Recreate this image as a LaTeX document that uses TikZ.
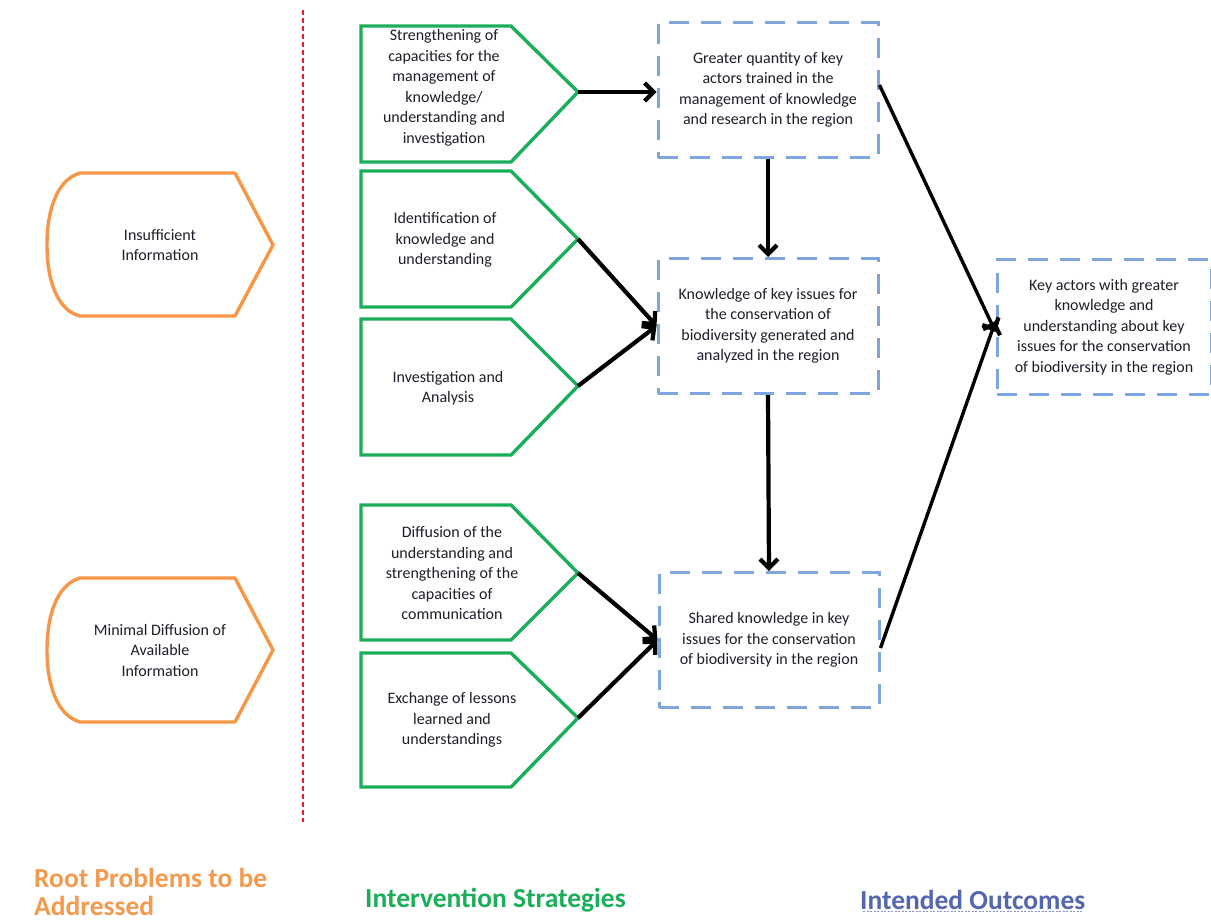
\documentclass[tikz,border=0pt]{standalone}
\usepackage{fontspec}
\setmainfont{Carlito}
\usetikzlibrary{arrows.meta}
\definecolor{orng}{HTML}{F79646}
\definecolor{grn}{HTML}{1BAE5A}
\definecolor{dblue}{HTML}{7EA6DC}
\definecolor{hblue}{HTML}{5466B0}
\definecolor{horng}{HTML}{F39A4E}
\definecolor{txt}{HTML}{1E1E2A}
\definecolor{sepred}{HTML}{E8202A}
\tikzset{
  probshape/.style={draw=orng, line width=3.4pt, line join=round},
  stratshape/.style={draw=grn, line width=3.4pt, line join=miter},
  outbox/.style={draw=dblue, line width=3pt, dash pattern=on 20pt off 12pt, minimum width=220pt, minimum height=135pt, inner sep=0pt, align=center, text=txt, font=\fontsize{16}{20.5}\selectfont},
  lbl/.style={align=center, text=txt, font=\fontsize{16}{20.5}\selectfont},
  conn/.style={line width=4.2pt, -{Straight Barb[length=9pt,width=18pt,line width=4.2pt]}},
  heading/.style={font=\fontsize{27.5}{28.5}\selectfont\bfseries, align=left, anchor=west, inner sep=1pt}
}
\begin{document}
\begin{tikzpicture}[x=1pt,y=-1pt]
\useasboundingbox (0,0) rectangle (1211,924);
\fill[white] (0,0) rectangle (1211,924);

% red separator
\draw[sepred, line width=1.4pt, dash pattern=on 5pt off 3pt] (303,10) -- (303,822);

% root problem shapes
\draw[probshape] (235,173) -- (80,173) .. controls (56,180) and (47,212) .. (47,245) .. controls (47,278) and (56,310) .. (80,316) -- (235,316) -- (273,245) -- cycle;
\node[lbl] (p1) at (160,245) {Insufficient\\Information};
\draw[probshape] (235,578) -- (80,578) .. controls (56,585) and (47,617) .. (47,650) .. controls (47,683) and (56,715) .. (80,722) -- (235,722) -- (273,650) -- cycle;
\node[lbl] (p2) at (160,650) {Minimal Diffusion of\\Available\\Information};

% strategy shapes
\draw[stratshape] (361,26) -- (511,26) -- (578,92) -- (511,162) -- (361,162) -- cycle;
\coordinate (s1tip) at (578,92);
\node[lbl] (s1) at (444,88) {Strengthening of\\capacities for the\\management of\\knowledge/\\understanding and\\investigation};

\draw[stratshape] (361,171) -- (511,171) -- (578,239) -- (511,307) -- (361,307) -- cycle;
\coordinate (s2tip) at (578,239);
\node[lbl] (s2) at (445,240) {Identification of\\knowledge and\\understanding};

\draw[stratshape] (361,319) -- (511,319) -- (578,386) -- (511,455) -- (361,455) -- cycle;
\coordinate (s3tip) at (578,386);
\node[lbl] (s3) at (448,388) {Investigation and\\Analysis};

\draw[stratshape] (361,505) -- (511,505) -- (578,573) -- (511,640) -- (361,640) -- cycle;
\coordinate (s4tip) at (578,573);
\node[lbl] (s4) at (452,573) {Diffusion of the\\understanding and\\strengthening of the\\capacities of\\communication};

\draw[stratshape] (361,653) -- (511,653) -- (578,718) -- (511,787) -- (361,787) -- cycle;
\coordinate (s5tip) at (578,718);
\node[lbl] (s5) at (452,720) {Exchange of lessons\\learned and\\understandings};

% outcome boxes
\node[outbox] (o1) at (768,90) {Greater quantity of key\\actors trained in the\\management of knowledge\\and research in the region};
\node[outbox] (o2) at (768,326) {Knowledge of key issues for\\the conservation of\\biodiversity generated and\\analyzed in the region};
\node[outbox] (o3) at (769,640) {Shared knowledge in key\\issues for the conservation\\of biodiversity in the region};
\node[outbox, minimum width=214pt] (o4) at (1104,327) {Key actors with greater\\knowledge and\\understanding about key\\issues for the conservation\\of biodiversity in the region};

% connectors
\draw[conn] (s1tip) -- (o1.west |- s1tip);
\draw[conn] (o1.south) -- (o2.north);
\draw[conn] (s2tip) -- (o2.west);
\draw[conn] (s3tip) -- (o2.west);
\draw[conn] (o2.south) -- (o3.north);
\draw[conn] (s4tip) -- (o3.west);
\draw[conn] (s5tip) -- (o3.west);
\draw[conn, line width=3.4pt] ([yshift=5pt]o1.east) -- ([yshift=-5pt]o4.west);
\draw[conn, line width=3.4pt] ([yshift=-8pt]o3.east) -- ([yshift=6pt]o4.west);

% headings
\node[heading, text=horng] (h1) at (33,892) {Root Problems to be\\Addressed};
\node[heading, text=grn] (h2) at (364,900) {Intervention Strategies};
\node[heading, text=hblue] (h3) at (859,900) {Intended Outcomes};
\draw[hblue!70, line width=1pt, dash pattern=on 2pt off 1.5pt] ([xshift=4pt,yshift=-1pt]h3.south west) -- ([xshift=-4pt,yshift=-1pt]h3.south east);
\end{tikzpicture}
\end{document}
